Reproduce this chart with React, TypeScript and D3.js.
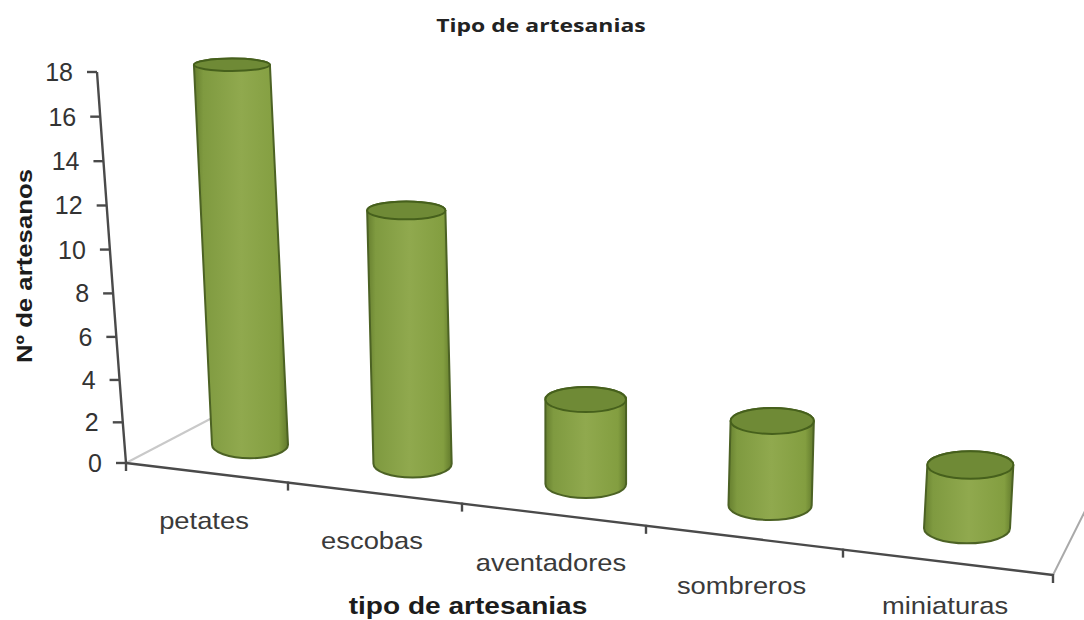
import React from "react";
import * as d3 from "d3";

// Artisans per craft type
const categories = ["petates", "escobas", "aventadores", "sombreros", "miniaturas"];
const artisans = [18, 12, 4, 4, 3];
const yTicks = [0, 2, 4, 6, 8, 10, 12, 14, 16, 18];
const chartTitle = "Tipo de artesanias";
const xTitle = "tipo de artesanias";
const yTitle = "Nº de artesanos";

const W = 1084;
const H = 620;
const SANS = "'Liberation Sans', Arial, sans-serif";
const AXIS = "#4a4a4a";

// Front floor edge: perspective makes the category bands widen to the right
const edgeX = d3.scaleLinear().domain([0, 1, 2, 3, 4, 5]).range([126, 288, 462, 646, 843, 1053]);
const edgeY = d3.scaleLinear().domain([126, 1053]).range([463, 575]);

// Value axis
const axisT = d3.scalePow().exponent(1.03).domain([0, 18]).range([463, 72]);
const axisL = d3.scaleLinear().domain([0, 18]).range([126, 97]);

// Cylinder height and perspective helpers
const barHeight = d3.scaleLinear().domain([0, 18]).range([0, 380]);
const depthX = d3.scaleLinear().domain([207, 948]).range([43, 19]);
const depthY = d3.scaleLinear().domain([207, 948]).range([-28, -34]);
const radiusX = d3.scaleLinear().domain([250, 968]).range([38, 43]);
const radiusY = d3.scaleLinear().domain([65, 527]).range([6.2, 15]);
const VANISH_X = 590;
const LEAN = 0.00014;

const axisPath = d3.line<number>().x(axisL).y(axisT)(yTicks) as string;

function Cylinder({ index, value }: { index: number; value: number }) {
  const mx = edgeX(index + 0.5);
  const my = edgeY(mx);
  const bx = mx + depthX(mx);
  const by = my + depthY(mx);
  const h = barHeight(value);
  // verticals spread apart towards the top of the scene
  const tx = bx + (bx - VANISH_X) * LEAN * h;
  const ty = by - h;
  const rx = radiusX(bx);
  const ryTop = radiusY(ty);
  const ryBase = radiusY(by);
  const body =
    `M${tx - rx},${ty} L${bx - rx},${by} ` +
    `A${rx},${ryBase} 0 0 0 ${bx + rx},${by} ` +
    `L${tx + rx},${ty} A${rx},${ryTop} 0 0 0 ${tx - rx},${ty} Z`;
  return (
    <g>
      <path d={body} fill="url(#cyl)" stroke="#4c6224" strokeWidth={2} strokeLinejoin="round" />
      <ellipse cx={tx} cy={ty} rx={rx} ry={ryTop} fill="#6f8a36" stroke="#46601c" strokeWidth={2} />
    </g>
  );
}

export default function App() {
  const fx = edgeX(0);
  const fy = edgeY(fx);
  const endX = edgeX(5);
  const endY = edgeY(endX);
  return (
    <svg
      width={W}
      height={H}
      viewBox={`0 0 ${W} ${H}`}
      style={{ position: "absolute", left: 0, top: 0, display: "block", background: "#fff" }}
    >
      <defs>
        <linearGradient id="cyl" x1="0" x2="1" y1="0" y2="0">
          <stop offset="0" stopColor="#667f2f" />
          <stop offset="0.1" stopColor="#7f9a40" />
          <stop offset="0.5" stopColor="#90a94e" />
          <stop offset="0.9" stopColor="#839e40" />
          <stop offset="1" stopColor="#627a2c" />
        </linearGradient>
      </defs>

      <text
        transform="translate(541,32) scale(1.35,1)"
        textAnchor="middle"
        fontFamily="'Open Sans', sans-serif"
        fontWeight={700}
        fontSize={17}
        fill="#222"
      >
        {chartTitle}
      </text>

      {/* floor edges receding from the front corners */}
      <line x1={fx} y1={fy} x2={fx + 86} y2={fy - 45} stroke="#c9c9c9" strokeWidth={2} />
      <line x1={endX} y1={endY} x2={endX + 34} y2={endY - 68} stroke="#a9a9a9" strokeWidth={2} />

      {/* value axis */}
      <path d={axisPath} fill="none" stroke={AXIS} strokeWidth={2.4} />
      {yTicks.map((t) => (
        <g key={t}>
          <line x1={axisL(t) - 10} x2={axisL(t)} y1={axisT(t)} y2={axisT(t)} stroke={AXIS} strokeWidth={2.4} />
          <text
            x={axisL(t) - 24}
            y={axisT(t) + 9}
            textAnchor="end"
            fontFamily={SANS}
            fontSize={25}
            fill="#333"
          >
            {t}
          </text>
        </g>
      ))}

      {/* category edge */}
      <line x1={fx} y1={fy} x2={endX} y2={endY} stroke={AXIS} strokeWidth={2.4} />
      {d3.range(0, 6).map((i) => {
        const x = edgeX(i);
        const y = edgeY(x);
        return <line key={i} x1={x} x2={x} y1={y - 1} y2={y + 8} stroke={AXIS} strokeWidth={2.4} />;
      })}
      {categories.map((c, i) => {
        const x = edgeX(i + 0.5);
        // labels follow the floor edge but stay inside the bottom of the canvas
        const y = Math.min(edgeY(x) + 56, H - 6);
        return (
          <text
            key={c}
            transform={`translate(${x - 3},${y}) scale(1.14,1)`}
            textAnchor="middle"
            fontFamily={SANS}
            fontSize={24}
            fill="#3a3a3a"
          >
            {c}
          </text>
        );
      })}

      {artisans.map((v, i) => (
        <Cylinder key={categories[i]} index={i} value={v} />
      ))}

      <text
        transform="translate(468,614) scale(1.17,1)"
        textAnchor="middle"
        fontFamily={SANS}
        fontWeight={700}
        fontSize={24}
        fill="#1c1c1c"
      >
        {xTitle}
      </text>
      <text
        transform="translate(32,266) rotate(-90) scale(1.12,1)"
        textAnchor="middle"
        fontFamily={SANS}
        fontWeight={700}
        fontSize={23}
        fill="#1c1c1c"
      >
        {yTitle}
      </text>
    </svg>
  );
}
